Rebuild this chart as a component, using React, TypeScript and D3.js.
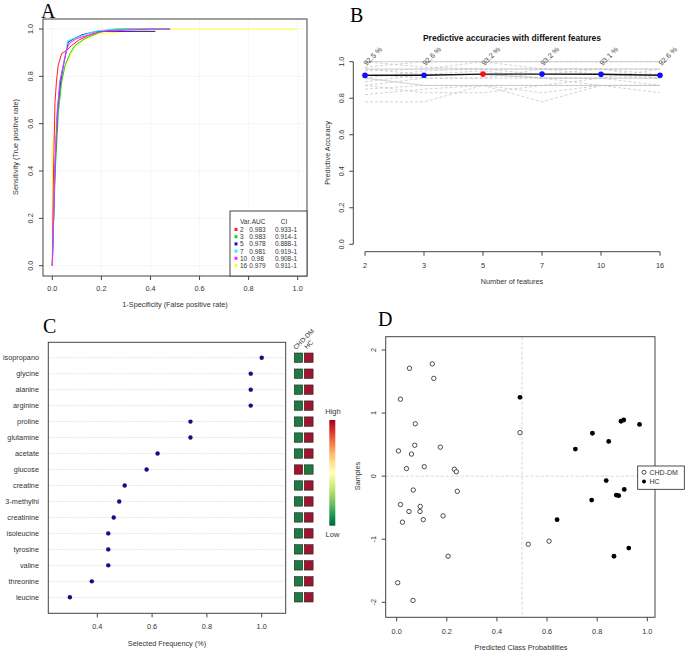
import React from "react";
import * as d3 from "d3";

// ---------- Panel A data ----------
const rocVars = ["2", "3", "5", "7", "10", "16"];
const rocAUC = ["0.983", "0.983", "0.978", "0.981", "0.98", "0.979"];
const rocCI = ["0.933-1", "0.914-1", "0.888-1", "0.919-1", "0.908-1", "0.911-1"];
const rocColors = ["#ff2020", "#20d020", "#1010e0", "#30f0f0", "#ff20ff", "#ffff30"];
const rocFpr2 = [0, 0.005, 0.011, 0.017, 0.024, 0.038, 0.059, 0.079, 0.106, 0.147, 0.2, 0.25, 0.3, 0.48];
const rocTpr2 = [0, 0.4, 0.69, 0.78, 0.847, 0.896, 0.91, 0.93, 0.952, 0.973, 0.99, 0.995, 1.0, 1.0];
const rocFpr3 = [0, 0.012, 0.025, 0.038, 0.052, 0.072, 0.092, 0.133, 0.19, 0.26, 0.48];
const rocTpr3 = [0, 0.4, 0.65, 0.776, 0.847, 0.896, 0.93, 0.96, 0.985, 1.0, 1.0];
const rocFpr5 = [0, 0.012, 0.022, 0.033, 0.046, 0.058, 0.065, 0.09, 0.12, 0.18, 0.3, 0.42];
const rocTpr5 = [0, 0.45, 0.66, 0.77, 0.85, 0.91, 0.945, 0.96, 0.975, 0.99, 0.99, 0.99];
const rocFpr7 = [0, 0.011, 0.02, 0.03, 0.045, 0.055, 0.062, 0.1, 0.174, 0.25, 0.48];
const rocTpr7 = [0, 0.45, 0.65, 0.78, 0.85, 0.9, 0.95, 0.965, 0.99, 1.0, 1.0];
const rocFpr10 = [0, 0.01, 0.02, 0.031, 0.045, 0.059, 0.07, 0.1, 0.15, 0.2, 0.3, 0.4, 0.48];
const rocTpr10 = [0, 0.4, 0.65, 0.776, 0.847, 0.917, 0.94, 0.96, 0.975, 0.99, 0.995, 1.0, 1.0];
const rocFpr16 = [0, 0, 0.015, 0.03, 0.042, 0.055, 0.075, 0.095, 0.13, 0.19, 0.3, 0.5, 1.0];
const rocTpr16 = [0, 0.5, 0.6, 0.72, 0.8, 0.85, 0.89, 0.925, 0.955, 0.98, 0.99, 1.0, 1.0];
const rocFprs = [rocFpr2, rocFpr3, rocFpr5, rocFpr7, rocFpr10, rocFpr16];
const rocTprs = [rocTpr2, rocTpr3, rocTpr5, rocTpr7, rocTpr10, rocTpr16];
const rocTicks = [0, 0.2, 0.4, 0.6, 0.8, 1.0];

// ---------- Panel B data ----------
const featureCounts = ["2", "3", "5", "7", "10", "16"];
const accuracies = [0.925, 0.926, 0.932, 0.932, 0.931, 0.926];
const accLabels = ["92.5 %", "92.6 %", "93.2 %", "93.2 %", "93.1 %", "92.6 %"];
const bestIndex = 2;
const bgDashed1 = [0.78, 0.78, 0.87, 0.78, 0.87, 0.83];
const bgDashed2 = [0.82, 0.85, 0.87, 0.83, 0.87, 0.87];
const bgDashed3 = [0.85, 0.87, 0.87, 0.87, 0.87, 0.87];
const bgDashed4 = [0.87, 0.91, 0.91, 0.91, 0.87, 0.87];
const bgDashed5 = [0.89, 0.93, 0.95, 0.91, 0.91, 0.91];
const bgDashed6 = [0.91, 0.95, 0.96, 0.96, 0.96, 0.96];
const bgDashed7 = [0.95, 0.96, 1.0, 0.96, 0.96, 0.91];
const bgDashed8 = [0.97, 1.0, 1.0, 1.0, 1.0, 1.0];
const bgDashed9 = [0.93, 0.91, 0.91, 0.96, 0.93, 0.91];
const bgDashed10 = [0.96, 0.93, 0.93, 0.91, 0.91, 0.96];
const bgDashed11 = [0.87, 0.83, 0.83, 0.87, 0.91, 0.87];
const bgDashed12 = [1.0, 0.97, 0.96, 0.93, 0.96, 0.93];
const bgSolid1 = [1.0, 1.0, 1.0, 1.0, 1.0, 1.0];
const bgSolid2 = [0.96, 0.96, 0.96, 0.96, 0.96, 0.96];
const bgSolid3 = [0.91, 0.87, 0.87, 0.87, 0.87, 0.87];
const bgSolid4 = [0.93, 0.93, 0.93, 0.91, 0.91, 0.91];
const bgDashedLines = [bgDashed1, bgDashed2, bgDashed3, bgDashed4, bgDashed5, bgDashed6, bgDashed7, bgDashed8, bgDashed9, bgDashed10, bgDashed11, bgDashed12];
const bgSolidLines = [bgSolid1, bgSolid2, bgSolid3, bgSolid4];
const accTicks = [0, 0.2, 0.4, 0.6, 0.8, 1.0];

// ---------- Panel C data ----------
const metabolites = ["isopropano", "glycine", "alanine", "arginine", "proline", "glutamine", "acetate", "glucose", "creatine", "3-methylhi", "creatinine", "isoleucine", "tyrosine", "valine", "threonine", "leucine"];
const selFreq = [1.0, 0.96, 0.96, 0.96, 0.74, 0.74, 0.62, 0.58, 0.5, 0.48, 0.46, 0.44, 0.44, 0.44, 0.38, 0.3];
const chdLevel = [0, 0, 0, 0, 0, 0, 0, 1, 0, 0, 0, 0, 0, 0, 0, 0];
const hcLevel = [1, 1, 1, 1, 1, 1, 1, 0, 1, 1, 1, 1, 1, 1, 1, 1];
const heatGroups = ["CHD-DM", "HC"];
const freqTicks = [0.4, 0.6, 0.8, 1.0];

// ---------- Panel D data ----------
const chdProb = [0.051, 0.142, 0.148, 0.015, 0.074, 0.072, 0.007, 0.059, 0.174, 0.039, 0.11, 0.23, 0.238, 0.066, 0.242, 0.015, 0.094, 0.049, 0.093, 0.023, 0.106, 0.185, 0.205, 0.004, 0.065, 0.492, 0.525, 0.608];
const chdSample = [1.71, 1.78, 1.55, 1.22, 0.83, 0.49, 0.4, 0.35, 0.46, 0.12, 0.15, 0.11, 0.07, -0.22, -0.24, -0.45, -0.48, -0.56, -0.56, -0.73, -0.69, -0.63, -1.27, -1.69, -1.97, 0.69, -1.08, -1.03];
const hcProb = [0.492, 0.895, 0.906, 0.969, 0.781, 0.846, 0.713, 0.836, 0.876, 0.886, 0.908, 0.778, 0.64, 0.867, 0.926];
const hcSample = [1.25, 0.87, 0.89, 0.82, 0.68, 0.55, 0.43, -0.07, -0.3, -0.31, -0.21, -0.38, -0.69, -1.27, -1.14];
const probTicks = [0, 0.2, 0.4, 0.6, 0.8, 1.0];
const sampleTicks = [-2, -1, 0, 1, 2];

const SANS = "'Liberation Sans', Arial, Helvetica, sans-serif";
const SERIF = "'Liberation Serif', 'Times New Roman', serif";
const TXT = "#333";
const AX = "#444";

function PanelA() {
  const x = d3.scaleLinear().domain([0, 1]).range([52.3, 297.7]);
  const y = d3.scaleLinear().domain([0, 1]).range([265.7, 29]);
  const L = 43, R = 307, T = 19, B = 276;
  const line = d3.line<[number, number]>().x((d) => x(d[0])).y((d) => y(d[1]));
  const order = [5, 0, 1, 2, 3, 4];
  return (
    <g>
      <text x={41} y={18} fontFamily={SERIF} fontSize={20}>A</text>
      {rocTicks.map((t) => (
        <g key={"g" + t}>
          <line x1={x(t)} x2={x(t)} y1={T} y2={B} stroke="#e6e6e6" strokeWidth={0.7} strokeDasharray="1,1" />
          <line x1={L} x2={R} y1={y(t)} y2={y(t)} stroke="#e6e6e6" strokeWidth={0.7} strokeDasharray="1,1" />
        </g>
      ))}
      {order.map((i) => (
        <path key={"roc" + i} d={line(rocFprs[i].map((f, j) => [f, rocTprs[i][j]]) as [number, number][]) || ""} fill="none" stroke={rocColors[i]} strokeWidth={1} />
      ))}
      <rect x={L} y={T} width={R - L} height={B - T} fill="none" stroke={AX} strokeWidth={1} />
      {rocTicks.map((t) => (
        <g key={"xt" + t}>
          <line x1={x(t)} x2={x(t)} y1={B} y2={B + 4} stroke={AX} />
          <text x={x(t)} y={291} fontFamily={SANS} fontSize={7.3} textAnchor="middle" fill={TXT}>{t.toFixed(1)}</text>
          <line x1={L} x2={L - 4} y1={y(t)} y2={y(t)} stroke={AX} />
          <text transform={`translate(33,${y(t)}) rotate(-90)`} fontFamily={SANS} fontSize={7.3} textAnchor="middle" fill={TXT}>{t.toFixed(1)}</text>
        </g>
      ))}
      <text x={175} y={307} fontFamily={SANS} fontSize={7.3} textAnchor="middle" fill={TXT}>1-Specificity (False positive rate)</text>
      <text transform="translate(18,147) rotate(-90)" fontFamily={SANS} fontSize={7.3} textAnchor="middle" fill={TXT}>Sensitivity (True positive rate)</text>
      <rect x={230} y={211} width={R - 230} height={B - 211} fill="#fff" stroke={AX} strokeWidth={1} />
      <text x={240} y={223.5} fontFamily={SANS} fontSize={6.5} fill={TXT}>Var.</text>
      <text x={258.5} y={223.5} fontFamily={SANS} fontSize={6.5} fill={TXT} textAnchor="middle">AUC</text>
      <text x={284} y={223.5} fontFamily={SANS} fontSize={6.5} fill={TXT} textAnchor="middle">CI</text>
      {rocVars.map((v, i) => {
        const yy = 232 + i * 7.2;
        return (
          <g key={"lg" + v}>
            <rect x={234.5} y={yy - 4} width={3} height={3} fill={rocColors[i]} />
            <text x={240} y={yy} fontFamily={SANS} fontSize={6.5} fill={TXT}>{v}</text>
            <text x={257.5} y={yy} fontFamily={SANS} fontSize={6.5} fill={TXT} textAnchor="middle">{rocAUC[i]}</text>
            <text x={286} y={yy} fontFamily={SANS} fontSize={6.5} fill={TXT} textAnchor="middle">{rocCI[i]}</text>
          </g>
        );
      })}
    </g>
  );
}

function PanelB() {
  const x = d3.scalePoint().domain(featureCounts).range([365, 660]);
  const y = d3.scaleLinear().domain([0, 1]).range([244.3, 61.7]);
  const line = d3.line<number>().x((_, i) => x(featureCounts[i]) as number).y((d) => y(d));
  return (
    <g>
      <text x={350} y={22} fontFamily={SERIF} fontSize={20}>B</text>
      <text x={512} y={41} fontFamily={SANS} fontSize={8.5} fontWeight="bold" textAnchor="middle" fill="#111">Predictive accuracies with different features</text>
      {bgDashedLines.map((l, i) => (
        <path key={"bd" + i} d={line(l) || ""} fill="none" stroke="#c8c8c8" strokeWidth={0.8} strokeDasharray="3,2" />
      ))}
      {bgSolidLines.map((l, i) => (
        <path key={"bs" + i} d={line(l) || ""} fill="none" stroke="#c4c4c4" strokeWidth={0.8} />
      ))}
      <path d={line(accuracies) || ""} fill="none" stroke="#111" strokeWidth={1.4} />
      {accuracies.map((a, i) => (
        <circle key={"pt" + i} cx={x(featureCounts[i])} cy={y(a)} r={2.8} fill={i === bestIndex ? "#ff1010" : "#1010ff"} />
      ))}
      {accLabels.map((s, i) => (
        <text key={"al" + i} transform={`translate(${(x(featureCounts[i]) as number) + 1.5},${66}) rotate(-45)`} fontFamily={SANS} fontSize={7.3} fill="#444">{s}</text>
      ))}
      <line x1={353.3} x2={353.3} y1={y(0)} y2={y(1)} stroke={AX} />
      {accTicks.map((t) => (
        <g key={"yt" + t}>
          <line x1={353.3} x2={349.3} y1={y(t)} y2={y(t)} stroke={AX} />
          <text transform={`translate(344,${y(t)}) rotate(-90)`} fontFamily={SANS} fontSize={7.3} textAnchor="middle" fill={TXT}>{t.toFixed(1)}</text>
        </g>
      ))}
      <line x1={365} x2={660} y1={251.7} y2={251.7} stroke={AX} />
      {featureCounts.map((c) => (
        <g key={"xt" + c}>
          <line x1={x(c)} x2={x(c)} y1={251.7} y2={255.7} stroke={AX} />
          <text x={x(c)} y={268} fontFamily={SANS} fontSize={7.3} textAnchor="middle" fill={TXT}>{c}</text>
        </g>
      ))}
      <text x={512} y={284} fontFamily={SANS} fontSize={7.3} textAnchor="middle" fill={TXT}>Number of features</text>
      <text transform="translate(330,153) rotate(-90)" fontFamily={SANS} fontSize={7.3} textAnchor="middle" fill={TXT}>Predictive Accuracy</text>
    </g>
  );
}

function PanelC() {
  const x = d3.scaleLinear().domain([0.4, 1.0]).range([97.3, 261.7]);
  const y = d3.scalePoint().domain(metabolites).range([357.7, 597.3]);
  const L = 48.3, R = 285.7, T = 342.3, B = 613.3;
  const green = "#1e7a3e";
  const red = "#a3132b";
  const gradStops = ["#006837", "#1a9850", "#66bd63", "#a6d96a", "#d9ef8b", "#ffffbf", "#fee08b", "#fdae61", "#f46d43", "#d73027", "#a50026"];
  return (
    <g>
      <defs>
        <linearGradient id="heatGrad" x1="0" y1="1" x2="0" y2="0">
          {gradStops.map((c, i) => (
            <stop key={c} offset={i / (gradStops.length - 1)} stopColor={c} />
          ))}
        </linearGradient>
      </defs>
      <text x={43} y={333} fontFamily={SERIF} fontSize={20}>C</text>
      {metabolites.map((m, i) => (
        <g key={m}>
          <line x1={L} x2={R} y1={y(m)} y2={y(m)} stroke="#bbb" strokeWidth={0.6} strokeDasharray="1,1.5" />
          <circle cx={x(selFreq[i])} cy={y(m)} r={2.2} fill="#10108c" />
          <text x={39} y={(y(m) as number) + 2.7} fontFamily={SANS} fontSize={7.3} textAnchor="end" fill={TXT}>{m}</text>
          <rect x={294.3} y={(y(m) as number) - 4.7} width={8.4} height={9.4} fill={chdLevel[i] ? red : green} stroke="#222" strokeWidth={0.6} />
          <rect x={304.3} y={(y(m) as number) - 4.7} width={8.8} height={9.4} fill={hcLevel[i] ? red : green} stroke="#222" strokeWidth={0.6} />
        </g>
      ))}
      <rect x={L} y={T} width={R - L} height={B - T} fill="none" stroke={AX} />
      {freqTicks.map((t) => (
        <g key={"ft" + t}>
          <line x1={x(t)} x2={x(t)} y1={B} y2={B + 4} stroke={AX} />
          <text x={x(t)} y={629} fontFamily={SANS} fontSize={7.3} textAnchor="middle" fill={TXT}>{t.toFixed(1)}</text>
        </g>
      ))}
      <text x={167} y={646} fontFamily={SANS} fontSize={7.3} textAnchor="middle" fill={TXT}>Selected Frequency (%)</text>
      {heatGroups.map((g, i) => (
        <text key={g} transform={`translate(${i === 0 ? 296 : 307},${i === 0 ? 350 : 349.5}) rotate(-45)`} fontFamily={SANS} fontSize={6.5} fill={TXT}>{g}</text>
      ))}
      <rect x={329.3} y={420} width={6} height={105.7} fill="url(#heatGrad)" />
      <text x={333} y={414} fontFamily={SANS} fontSize={7.5} textAnchor="middle" fill={TXT}>High</text>
      <text x={332.5} y={537} fontFamily={SANS} fontSize={7.5} textAnchor="middle" fill={TXT}>Low</text>
    </g>
  );
}

function PanelD() {
  const x = d3.scaleLinear().domain([0, 1]).range([396.7, 647.3]);
  const y = d3.scaleLinear().domain([-2, 2]).range([602.3, 350]);
  const L = 385.7, R = 655, T = 336.7, B = 617.3;
  return (
    <g>
      <text x={378} y={326} fontFamily={SERIF} fontSize={20}>D</text>
      <line x1={x(0.5)} x2={x(0.5)} y1={T} y2={B} stroke="#ccc" strokeWidth={0.8} strokeDasharray="3,2" />
      <line x1={L} x2={R} y1={y(0)} y2={y(0)} stroke="#ccc" strokeWidth={0.8} strokeDasharray="3,2" />
      {chdProb.map((p, i) => (
        <circle key={"c" + i} cx={x(p)} cy={y(chdSample[i])} r={2.2} fill="#fff" stroke="#222" strokeWidth={0.8} />
      ))}
      {hcProb.map((p, i) => (
        <circle key={"h" + i} cx={x(p)} cy={y(hcSample[i])} r={2.4} fill="#000" />
      ))}
      <rect x={L} y={T} width={R - L} height={B - T} fill="none" stroke={AX} />
      {probTicks.map((t) => (
        <g key={"pt" + t}>
          <line x1={x(t)} x2={x(t)} y1={B} y2={B + 4} stroke={AX} />
          <text x={x(t)} y={634} fontFamily={SANS} fontSize={7.3} textAnchor="middle" fill={TXT}>{t.toFixed(1)}</text>
        </g>
      ))}
      {sampleTicks.map((t) => (
        <g key={"st" + t}>
          <line x1={L} x2={L - 4} y1={y(t)} y2={y(t)} stroke={AX} />
          <text transform={`translate(376,${y(t)}) rotate(-90)`} fontFamily={SANS} fontSize={7.3} textAnchor="middle" fill={TXT}>{t}</text>
        </g>
      ))}
      <text x={521} y={650} fontFamily={SANS} fontSize={7.3} textAnchor="middle" fill={TXT}>Predicted Class Probabilities</text>
      <text transform="translate(360,476) rotate(-90)" fontFamily={SANS} fontSize={7.3} textAnchor="middle" fill={TXT}>Samples</text>
      <rect x={637.7} y={466} width={46.6} height={23.3} fill="#fff" stroke="#222" strokeWidth={0.8} />
      <circle cx={644} cy={472.3} r={2} fill="#fff" stroke="#222" strokeWidth={0.8} />
      <text x={649.5} y={475} fontFamily={SANS} fontSize={7} fill={TXT}>CHD-DM</text>
      <circle cx={644} cy={481.5} r={2} fill="#000" />
      <text x={649.5} y={484.2} fontFamily={SANS} fontSize={7} fill={TXT}>HC</text>
    </g>
  );
}

export default function App() {
  return (
    <div style={{ position: "absolute", left: 0, top: 0, width: 685, height: 654, background: "#fff" }}>
      <svg width={685} height={654} viewBox="0 0 685 654" style={{ display: "block" }}>
        <rect x={0} y={0} width={685} height={654} fill="#fff" />
        <PanelA />
        <PanelB />
        <PanelC />
        <PanelD />
      </svg>
    </div>
  );
}
